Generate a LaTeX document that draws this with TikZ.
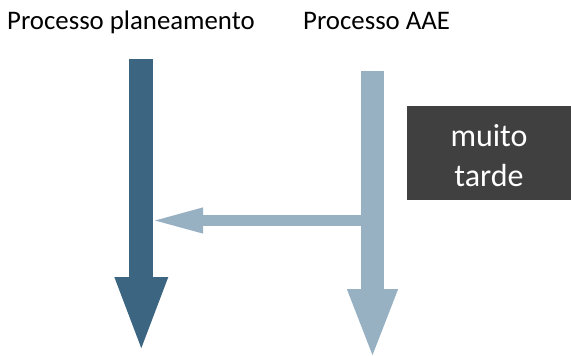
\documentclass[tikz,border=0pt]{standalone}
\usepackage{fontspec}
\setmainfont{Carlito}
\usetikzlibrary{arrows.meta}
\definecolor{planblue}{HTML}{3B6580}
\definecolor{aaeblue}{HTML}{97B1C3}
\definecolor{boxgrey}{HTML}{404040}
\tikzset{
  title/.style={anchor=base west,inner sep=0pt,font=\fontsize{26.8}{32}\selectfont},
  bigarrow/.style={draw=#1,line width=24pt,-{Triangle[width=47pt,length=77pt]}}
}
\begin{document}
\begin{tikzpicture}[x=1pt,y=-1pt]
      \useasboundingbox (0,0) rectangle (571,356);
      \node[title] (plan) at (7,30) {Processo planeamento};
      \node[title] (aae) at (303,29) {Processo AAE};
      \coordinate (plantop) at (141.3,59);  \coordinate (planend) at (141.3,354);
      \coordinate (aaetop) at (372.5,70.7); \coordinate (aaeend) at (372.5,360);
      \coordinate (linkfrom) at (372.5,220.5); \coordinate (linkto) at (149,220.5);
      \draw[bigarrow=planblue] (plantop) -- (planend);
      \draw[draw=aaeblue,line width=23pt,-{Triangle[width=45pt,length=71pt]}] (aaetop) -- (aaeend);
      \draw[draw=aaeblue,line width=10.7pt,-{Triangle[width=22.4pt,length=54pt]}] (linkfrom) -- (linkto);
      \fill[boxgrey] (406.7,105.7) rectangle (571,200);
      \node[text=white,align=center,font=\fontsize{32}{40}\selectfont] (late) at (489,155.5) {muito\\tarde};
     \end{tikzpicture}
\end{document}
